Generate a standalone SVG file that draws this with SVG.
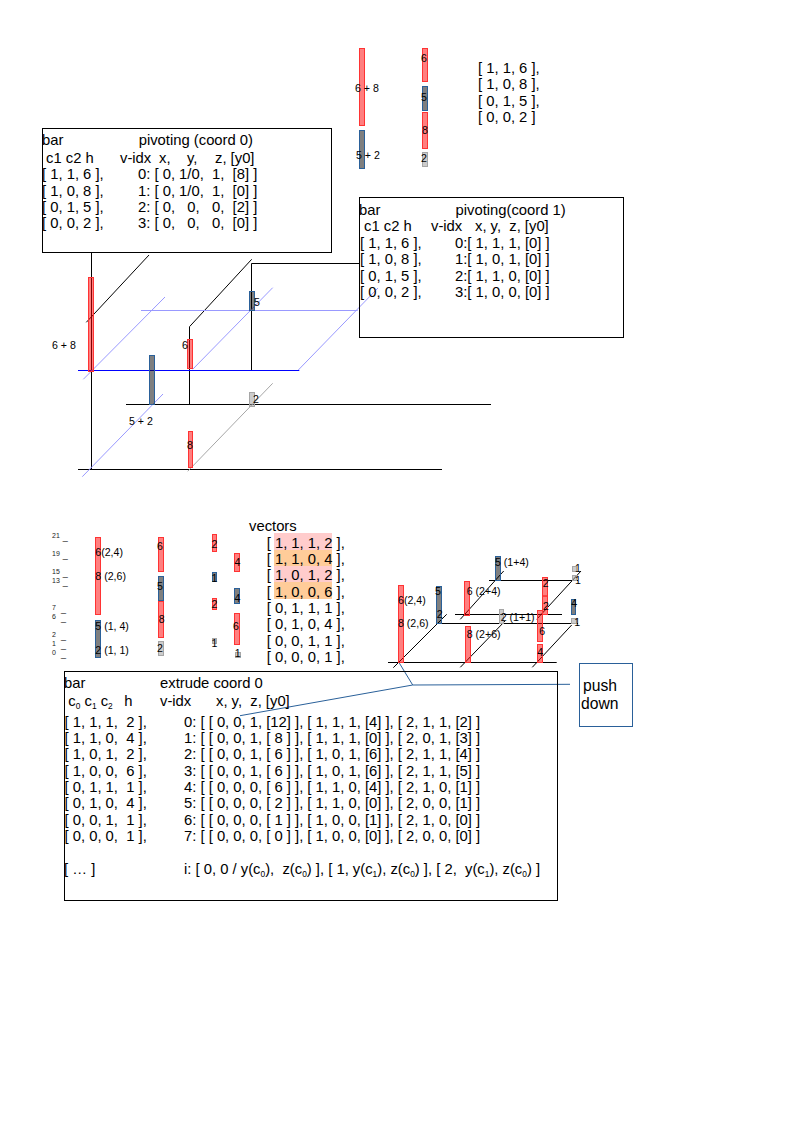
<svg xmlns="http://www.w3.org/2000/svg" width="794" height="1123" viewBox="0 0 794 1123">
<style>
text{font-family:"Liberation Sans",Arial,sans-serif;font-size:14.8px;fill:#000;white-space:pre}
.s{font-size:10.6px}
.t{font-size:7px;fill:#222}
.t tspan{font-size:9px}
.b{font-size:15.7px}
.u{font-size:8.4px}
.k{fill:none;stroke:#000;stroke-width:1}
.p{fill:none;stroke:#9999ff;stroke-width:1}
.q{fill:none;stroke:#a6a6a6;stroke-width:1}
.d{fill:none;stroke:#0000ff;stroke-width:1}
.c{fill:none;stroke:#2a6099;stroke-width:1}
.box{fill:none;stroke:#000;stroke-width:1}
.r{fill:#ff0000;fill-opacity:.5;stroke:#ff3333;stroke-width:1}
.g{fill:#000;fill-opacity:.5;stroke:#2a6099;stroke-width:1}
.l{fill:#999;fill-opacity:.5;stroke:#a6a6a6;stroke-width:1}
</style>
<g id="connectors">
<path class="k" d="M91.5 253V469.5M86.3 322.3L149 255M189.5 404.5V326.7L251.7 259.3M251.5 370V263.5H359M78 469.5H442M126 404.5H491"/>
<path class="d" d="M78 370.5H299.3"/>
<path class="p" d="M141 310.5H357.7M83.3 379.3L165 297M192.7 369.3L272.7 287.7M298.3 370L378 288M82.3 476.7L163 394"/>
<path class="q" d="M187.7 471.3L272.7 383.3"/>
<path class="k" d="M489 580.5H578M455 614.5H562M436.7 623.5H578M388 662.5H556.7M393.3 667.7L446.7 614.3M460.3 619.3L503.7 571M460.3 667.3L505 621M532.3 667.3L571.7 625M536.7 619.3L581 571"/>
<path class="c" d="M240 715.7L412.7 685L570 684.3M398.7 662L412.7 685"/>
</g>
<g id="top-bars">
<rect class="r" x="359.5" y="48.5" width="5" height="77"/>
<rect class="g" x="359.5" y="130.5" width="5" height="38"/>
<rect class="r" x="422.5" y="48.5" width="5" height="33"/>
<rect class="g" x="422.5" y="86.5" width="5" height="24"/>
<rect class="r" x="422.5" y="112.5" width="5" height="36"/>
<rect class="l" x="422.5" y="152.5" width="5" height="14"/>
<text class="s" x="355" y="92">6 + 8</text>
<text class="s" x="356" y="159">5 + 2</text>
<text class="s" x="421" y="62">6</text>
<text class="s" x="421" y="101">5</text>
<text class="s" x="422" y="134">8</text>
<text class="s" x="421" y="162">2</text>
</g>
<g id="top-vectors">
<text x="478" y="73">[ 1, 1, 6 ],</text>
<text x="478" y="89.3">[ 1, 0, 8 ],</text>
<text x="478" y="105.6">[ 0, 1, 5 ],</text>
<text x="478" y="122">[ 0, 0, 2 ]</text>
</g>
<g id="pivot-coord-0">
<rect class="box" x="42.5" y="128.5" width="289" height="124"/>
<text x="42" y="145">bar</text>
<text x="138.7" y="145">pivoting (coord 0)</text>
<text x="46" y="163">c1 c2 h</text>
<text x="120" y="163">v-idx</text>
<text x="159" y="163">x,</text>
<text x="187" y="163">y,</text>
<text x="215" y="163">z, [y0]</text>
<text x="42" y="179.3">[ 1, 1, 6 ],</text>
<text x="42" y="195.6">[ 1, 0, 8 ],</text>
<text x="42" y="211.9">[ 0, 1, 5 ],</text>
<text x="42" y="228.2">[ 0, 0, 2 ],</text>
<text x="138" y="179.3">0: [ 0, 1/0,  1,  [8] ]</text>
<text x="138" y="195.6">1: [ 0, 1/0,  1,  [0] ]</text>
<text x="138" y="211.9">2: [ 0,   0,   0,  [2] ]</text>
<text x="138" y="228.2">3: [ 0,   0,   0,  [0] ]</text>
</g>
<g id="pivot-coord-1">
<rect class="box" x="359.5" y="197.5" width="264" height="140"/>
<text x="359" y="215">bar</text>
<text x="455.5" y="215">pivoting(coord 1)</text>
<text x="364" y="231">c1 c2 h</text>
<text x="431" y="231">v-idx</text>
<text x="475" y="231">x, y,  z, [y0]</text>
<text x="360" y="248">[ 1, 1, 6 ],</text>
<text x="360" y="264.3">[ 1, 0, 8 ],</text>
<text x="360" y="280.6">[ 0, 1, 5 ],</text>
<text x="360" y="297">[ 0, 0, 2 ],</text>
<text x="455" y="248">0:[ 1, 1, 1, [0] ]</text>
<text x="455" y="264.3">1:[ 1, 0, 1, [0] ]</text>
<text x="455" y="280.6">2:[ 1, 1, 0, [0] ]</text>
<text x="455" y="297">3:[ 1, 0, 0, [0] ]</text>
</g>
<g id="pivot-bars">
<rect class="r" x="88.5" y="277.5" width="5" height="94"/>
<rect class="g" x="149.5" y="355.5" width="5" height="49"/>
<rect class="r" x="187.5" y="339.5" width="5" height="29"/>
<rect class="g" x="249.5" y="291.5" width="5" height="19"/>
<rect class="l" x="249.5" y="392.5" width="5" height="14"/>
<rect class="r" x="188.5" y="431.5" width="4" height="36"/>
<text class="s" x="52" y="348.7">6 + 8</text>
<text class="s" x="129" y="425">5 + 2</text>
<text class="s" x="182" y="349">6</text>
<text class="s" x="254" y="305.7">5</text>
<text class="s" x="253" y="403">2</text>
<text class="s" x="187" y="449">8</text>
</g>
<g id="scale">
<text class="t" x="52" y="538">21<tspan x="62.7" y="539.7">_</tspan></text>
<text class="t" x="52" y="556">19<tspan x="62.7" y="557.7">_</tspan></text>
<text class="t" x="52" y="574">15<tspan x="62.7" y="575.7">_</tspan></text>
<text class="t" x="52" y="583">13<tspan x="62.7" y="584.7">_</tspan></text>
<text class="t" x="52" y="610.3">7<tspan x="61" y="612">_</tspan></text>
<text class="t" x="52" y="619">6<tspan x="61" y="620.7">_</tspan></text>
<text class="t" x="52" y="637">2<tspan x="61" y="638.7">_</tspan></text>
<text class="t" x="52" y="646">1<tspan x="61" y="647.7">_</tspan></text>
<text class="t" x="52" y="655">0<tspan x="61" y="656.7">_</tspan></text>
</g>
<g id="extrude-bars">
<rect class="r" x="95.5" y="537.5" width="5" height="77"/>
<rect class="g" x="95.5" y="620.5" width="5" height="37"/>
<text class="s" x="95.3" y="556">6(2,4)</text>
<text class="s" x="95.3" y="580">8 (2,6)</text>
<text class="s" x="95.3" y="630.3">5 (1, 4)</text>
<text class="s" x="95.3" y="653.7">2 (1, 1)</text>
<rect class="r" x="158.5" y="537.5" width="5" height="34"/>
<rect class="g" x="158.5" y="576.5" width="5" height="24"/>
<rect class="r" x="158.5" y="601.5" width="5" height="36"/>
<rect class="l" x="158.5" y="641.5" width="5" height="14"/>
<text class="s" x="157" y="550">6</text>
<text class="s" x="157" y="590">5</text>
<text class="s" x="158.7" y="622.7">8</text>
<text class="s" x="157" y="652">2</text>
<rect class="r" x="212.5" y="534.5" width="4" height="17"/>
<rect class="g" x="212.5" y="572.5" width="4" height="9"/>
<rect class="r" x="212.5" y="598.5" width="4" height="11"/>
<rect class="l" x="212.5" y="638.5" width="4" height="5"/>
<text class="s" x="211.5" y="547.7">2</text>
<text class="s" x="211.5" y="581.7">1</text>
<text class="s" x="211.5" y="608.3">2</text>
<text class="s" x="211.5" y="646.7">1</text>
<rect class="r" x="234.5" y="553.5" width="5" height="18"/>
<rect class="g" x="234.5" y="588.5" width="5" height="15"/>
<rect class="r" x="234.5" y="613.5" width="5" height="31"/>
<rect class="l" x="235.5" y="652.5" width="5" height="5"/>
<text class="s" x="234.5" y="565.7">4</text>
<text class="s" x="234.5" y="602.3">4</text>
<text class="s" x="233" y="630">6</text>
<text class="s" x="234.7" y="656.7">1</text>
</g>
<g id="vectors">
<rect x="274" y="533" width="58" height="17" fill="#ffcccc"/>
<rect x="274" y="550" width="58" height="16" fill="#ffcc99"/>
<rect x="274" y="566" width="58" height="16" fill="#ffcccc"/>
<rect x="274" y="582" width="58" height="17" fill="#ffcc99"/>
<text x="249" y="530.7">vectors</text>
<text x="266.7" y="547.7">[ 1, 1, 1, 2 ],</text>
<text x="266.7" y="564">[ 1, 1, 0, 4 ],</text>
<text x="266.7" y="580.3">[ 1, 0, 1, 2 ],</text>
<text x="266.7" y="596.6">[ 1, 0, 0, 6 ],</text>
<text x="266.7" y="612.9">[ 0, 1, 1, 1 ],</text>
<text x="266.7" y="629.2">[ 0, 1, 0, 4 ],</text>
<text x="266.7" y="645.5">[ 0, 0, 1, 1 ],</text>
<text x="266.7" y="661.8">[ 0, 0, 0, 1 ],</text>
</g>
<g id="extrude-3d">
<rect class="r" x="398.5" y="585.5" width="5" height="77"/>
<rect class="g" x="436.5" y="586.5" width="5" height="37"/>
<rect class="r" x="464.5" y="581.5" width="5" height="34"/>
<rect class="g" x="495.5" y="556.5" width="5" height="24"/>
<rect class="r" x="465.5" y="626.5" width="5" height="36"/>
<rect class="l" x="499.5" y="609.5" width="4" height="14"/>
<rect class="r" x="542.5" y="577.5" width="5" height="18.5"/>
<rect class="r" x="542.5" y="596" width="5" height="18.5"/>
<rect class="r" x="537.5" y="610.5" width="5" height="31"/>
<rect class="r" x="537.5" y="644.5" width="5" height="18"/>
<rect class="g" x="571.5" y="599.5" width="4" height="15"/>
<rect class="l" x="572.5" y="566.5" width="4" height="5"/>
<rect class="l" x="572.5" y="575.5" width="4" height="5"/>
<rect class="l" x="571.5" y="618.5" width="5" height="5"/>
<text class="s" x="398" y="603.7">6(2,4)</text>
<text class="s" x="398" y="627.3">8 (2,6)</text>
<text class="s" x="435" y="595">5</text>
<text class="s" x="436.7" y="618.3">2</text>
<text class="s" x="466.7" y="595">6 (2+4)</text>
<text class="s" x="495" y="566">5 (1+4)</text>
<text class="s" x="466.7" y="637.7">8 (2+6)</text>
<text class="s" x="500.7" y="620.7">2 (1+1)</text>
<text class="s" x="542.7" y="586.7">2</text>
<text class="s" x="543" y="610">2</text>
<text class="s" x="539.3" y="635">6</text>
<text class="s" x="537.3" y="656">4</text>
<text class="s" x="571.3" y="607.3">4</text>
<text class="s" x="575" y="572.3">1</text>
<text class="s" x="575" y="584.3">1</text>
<text class="s" x="574.3" y="626">1</text>
</g>
<g id="extrude-coord-0">
<rect class="box" x="64.5" y="671.5" width="493" height="229"/>
<text x="64" y="688.3">bar</text>
<text x="160" y="688.3">extrude coord 0</text>
<text x="68.3" y="706">c<tspan class="u" dy="3">0</tspan><tspan dy="-3"> c</tspan><tspan class="u" dy="3">1</tspan><tspan dy="-3"> c</tspan><tspan class="u" dy="3">2</tspan></text>
<text x="124.3" y="706">h</text>
<text x="160" y="706">v-idx</text>
<text x="216" y="706">x, y,  z, [y0]</text>
<text x="64.5" y="726.7">[ 1, 1, 1,  2 ],</text>
<text x="64.5" y="743">[ 1, 1, 0,  4 ],</text>
<text x="64.5" y="759.3">[ 1, 0, 1,  2 ],</text>
<text x="64.5" y="775.6">[ 1, 0, 0,  6 ],</text>
<text x="64.5" y="792">[ 0, 1, 1,  1 ],</text>
<text x="64.5" y="808.3">[ 0, 1, 0,  4 ],</text>
<text x="64.5" y="824.6">[ 0, 0, 1,  1 ],</text>
<text x="64.5" y="841">[ 0, 0, 0,  1 ],</text>
<text x="184" y="726.7">0: [ [ 0, 0, 1, [12] ], [ 1, 1, 1, [4] ], [ 2, 1, 1, [2] ]</text>
<text x="184" y="743">1: [ [ 0, 0, 1, [ 8 ] ], [ 1, 1, 1, [0] ], [ 2, 0, 1, [3] ]</text>
<text x="184" y="759.3">2: [ [ 0, 0, 1, [ 6 ] ], [ 1, 0, 1, [6] ], [ 2, 1, 1, [4] ]</text>
<text x="184" y="775.6">3: [ [ 0, 0, 1, [ 6 ] ], [ 1, 0, 1, [6] ], [ 2, 1, 1, [5] ]</text>
<text x="184" y="792">4: [ [ 0, 0, 0, [ 6 ] ], [ 1, 1, 0, [4] ], [ 2, 1, 0, [1] ]</text>
<text x="184" y="808.3">5: [ [ 0, 0, 0, [ 2 ] ], [ 1, 1, 0, [0] ], [ 2, 0, 0, [1] ]</text>
<text x="184" y="824.6">6: [ [ 0, 0, 0, [ 1 ] ], [ 1, 0, 0, [1] ], [ 2, 1, 0, [0] ]</text>
<text x="184" y="841">7: [ [ 0, 0, 0, [ 0 ] ], [ 1, 0, 0, [0] ], [ 2, 0, 0, [0] ]</text>
<text x="64" y="874">[ … ]</text>
<text x="184" y="874">i: [ 0, 0 / y(c<tspan class="u" dy="3">0</tspan><tspan dy="-3">),  z(c</tspan><tspan class="u" dy="3">0</tspan><tspan dy="-3">) ], [ 1, y(c</tspan><tspan class="u" dy="3">1</tspan><tspan dy="-3">), z(c</tspan><tspan class="u" dy="3">0</tspan><tspan dy="-3">) ], [ 2,  y(c</tspan><tspan class="u" dy="3">1</tspan><tspan dy="-3">), z(c</tspan><tspan class="u" dy="3">0</tspan><tspan dy="-3">) ]</tspan></text>
</g>
<g id="push-down">
<rect class="c" x="579.5" y="663.5" width="53" height="63"/>
<text class="b" x="583" y="690.7">push</text>
<text class="b" x="581" y="708.7">down</text>
</g>
</svg>
